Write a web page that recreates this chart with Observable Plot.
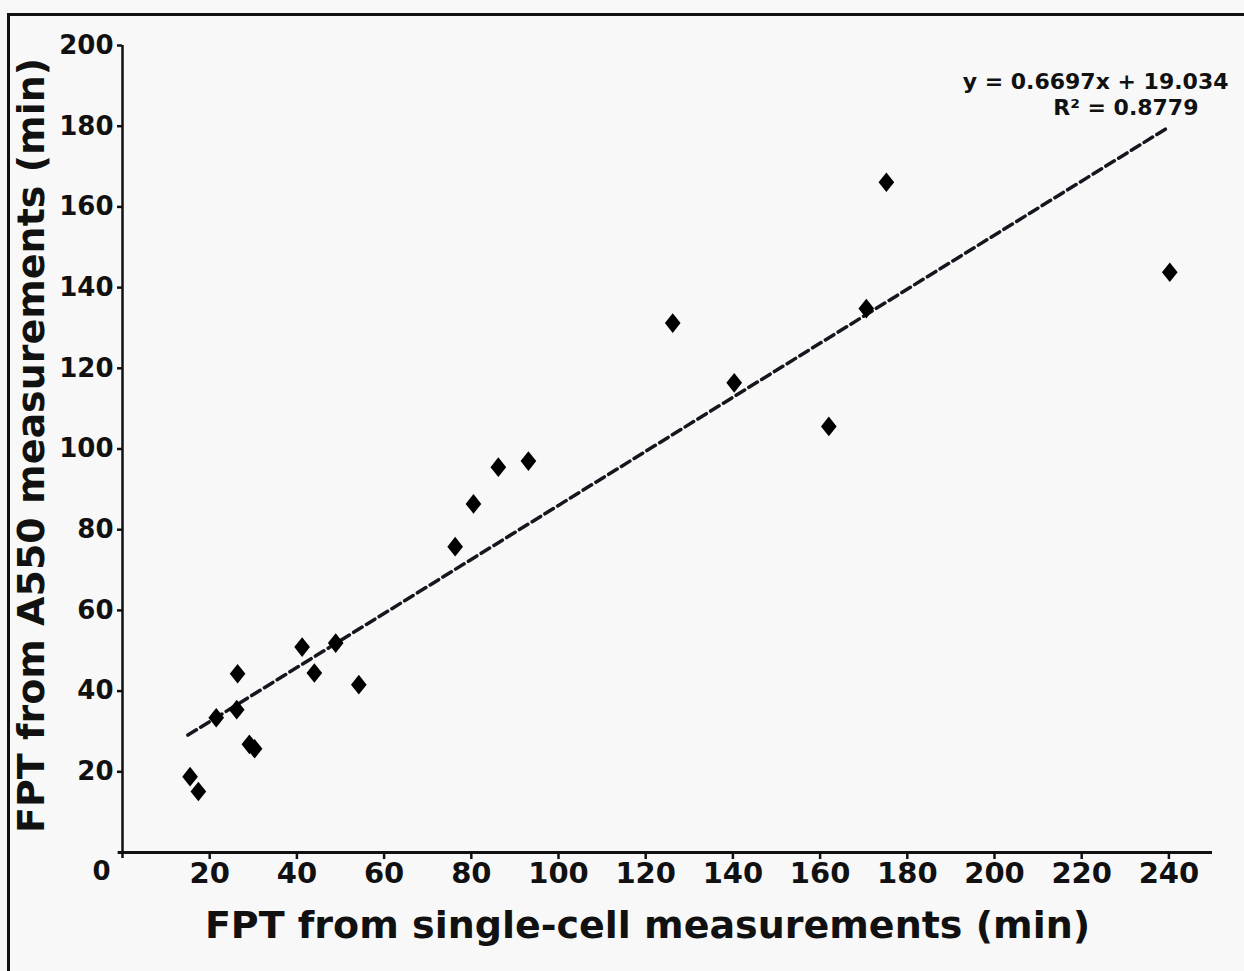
<!DOCTYPE html>
<html><head><meta charset="utf-8">
<script src="https://cdn.jsdelivr.net/npm/d3@7"></script>
<script src="https://cdn.jsdelivr.net/npm/@observablehq/plot@0.6"></script>
<style>
html,body{margin:0;padding:0;background:#f8f8f8;}
#chart{position:relative;width:1244px;height:971px;overflow:hidden;}
</style>
</head><body><div id="chart"></div>
<script>
// Values
const singleCellFPT = [15.5, 17.4, 21.5, 26.4, 26.2, 29.1, 30.3, 41.2, 44.0, 48.9, 54.2, 76.3, 80.5, 86.2, 93.1, 126.2, 140.3, 162.0, 170.6, 175.2, 240.2];
const a550FPT       = [18.8, 15.1, 33.4, 44.3, 35.4, 26.8, 25.7, 50.9, 44.5, 51.9, 41.6, 75.8, 86.4, 95.5, 97.0, 131.2, 116.4, 105.6, 134.8, 166.1, 143.8];
const trendX = [15, 240];
const trendY = [29.1, 179.8];
const xTicks = [20, 40, 60, 80, 100, 120, 140, 160, 180, 200, 220, 240];
const yTicks = [20, 40, 60, 80, 100, 120, 140, 160, 180, 200];
const yZeroLabel = ["0"];
const equationText = "y = 0.6697x + 19.034";
const r2Text = "R\u00b2 = 0.8779";
const xTitle = "FPT from single-cell measurements (min)";
const yTitle = "FPT from A550 measurements (min)";

const points = singleCellFPT.map((x, i) => ({x, y: a550FPT[i]}));
const trend = trendX.map((x, i) => ({x, y: trendY[i]}));

const diamond = {
  draw(context, size) {
    const h = Math.sqrt(size / Math.PI);
    const w = h * 0.8;
    context.moveTo(0, -h);
    context.lineTo(w, 0);
    context.lineTo(0, h);
    context.lineTo(-w, 0);
    context.closePath();
  }
};

const font = "DejaVu Sans";
const ink = "#111";

const chart = Plot.plot({
  width: 1244,
  height: 971,
  marginLeft: 122,
  marginRight: 32,
  marginTop: 45,
  marginBottom: 119,
  style: {background: "#f8f8f8", fontFamily: font, fontWeight: "bold", color: ink},
  x: {domain: [0, 250]},
  y: {domain: [0, 200]},
  marks: [
    Plot.ruleY([0], {x1: -1, x2: 250, stroke: ink, strokeWidth: 3}),
    Plot.ruleX([0], {y1: -1.5, y2: 200, stroke: ink, strokeWidth: 2.5}),
    Plot.axisX(xTicks, {anchor: "bottom", tickSize: 7, tickPadding: 3, fontSize: 29, fontWeight: "bold", strokeWidth: 2.5, label: null}),
    Plot.axisY(yTicks, {anchor: "left", tickSize: 5, tickPadding: 4, fontSize: 26, fontWeight: "bold", strokeWidth: 2.5, label: null}),
    Plot.text(yZeroLabel, {x: 0, y: 0, text: d => d, dx: -21, dy: 19, fontSize: 26, fontWeight: "bold", fill: ink}),
    Plot.line(trend, {x: "x", y: "y", stroke: "#15171f", strokeWidth: 3.5, strokeDasharray: "10,5"}),
    Plot.dot(points, {x: "x", y: "y", symbol: diamond, r: 9.8, fill: "#000", stroke: "none"}),
    Plot.text([equationText], {frameAnchor: "top-right", text: d => d, dx: 16, dy: 43, textAnchor: "end", lineAnchor: "bottom", fontSize: 22, fontWeight: "bold", fill: ink}),
    Plot.text([r2Text], {frameAnchor: "top-right", text: d => d, dx: -14, dy: 69, textAnchor: "end", lineAnchor: "bottom", fontSize: 22, fontWeight: "bold", fill: ink}),
    Plot.text([xTitle], {frameAnchor: "bottom", text: d => d, dx: -20, dy: 85, textAnchor: "middle", lineAnchor: "bottom", fontSize: 38, fontWeight: "bold", fill: ink}),
    Plot.text([yTitle], {frameAnchor: "left", text: d => d, dx: -79, dy: -3.5, rotate: -90, textAnchor: "middle", lineAnchor: "bottom", fontSize: 38, fontWeight: "bold", fill: ink})
  ]
});

// outer picture frame (top and left edges visible as in the reference)
d3.select(chart).append("rect")
  .attr("x", 8.5).attr("y", 14.5).attr("width", 1400).attr("height", 1100)
  .attr("fill", "none").attr("stroke", ink).attr("stroke-width", 3);

document.getElementById("chart").appendChild(chart);
</script>
</body></html>
